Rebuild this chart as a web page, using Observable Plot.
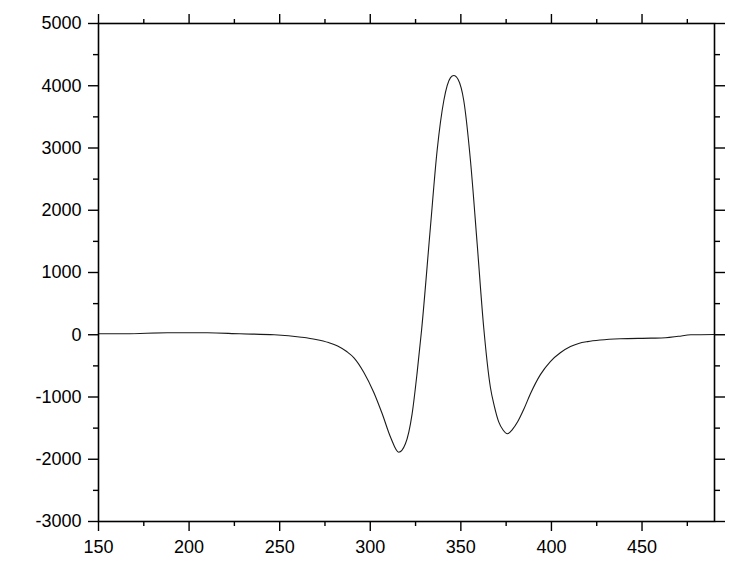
<!DOCTYPE html>
<html>
<head>
<meta charset="utf-8">
<script src="https://cdn.jsdelivr.net/npm/d3@7"></script>
<script src="https://cdn.jsdelivr.net/npm/@observablehq/plot@0.6"></script>
<style>
  html, body { margin: 0; padding: 0; background: #fff; }
  #chart svg { display: block; }
</style>
</head>
<body>
<div id="chart"></div>
<script>
const xs = [150, 165, 188, 210, 228, 247, 262, 270, 277, 282, 287, 291, 296.4, 301.9, 306.6, 311.2, 315.7, 319.4, 323.1, 325.9, 328.3, 333.2, 336.9, 340.6, 344.3, 346.1, 348.5, 351.6, 355.3, 359, 362.6, 366.3, 368.5, 370.9, 373.3, 375.7, 378.5, 381.5, 385, 388.4, 393.9, 399.4, 404.9, 410.5, 415, 420, 427, 438, 455, 463, 470, 477, 490];
const ys = [15, 15, 31, 31, 15, 0, -39, -75, -125, -180, -270, -370, -601, -923, -1270, -1646, -1887, -1752, -1270, -600, 68, 1728, 2960, 3763, 4130, 4165, 4100, 3763, 2799, 1461, 121, -843, -1150, -1400, -1530, -1591, -1520, -1390, -1180, -948, -640, -430, -290, -190, -140, -110, -85, -65, -55, -48, -25, 0, 5];

const xMajor = [150, 200, 250, 300, 350, 400, 450];
const xMinor = [175, 225, 275, 325, 375, 425, 475];
const yMajor = [-3000, -2000, -1000, 0, 1000, 2000, 3000, 4000, 5000];
const yMinor = [-2500, -1500, -500, 500, 1500, 2500, 3500, 4500];

const data = xs.map((x, i) => ({x, y: ys[i]}));

const fs = 18;
const plot = Plot.plot({
  width: 756,
  height: 574,
  marginLeft: 98,
  marginRight: 42,
  marginTop: 23,
  marginBottom: 53,
  style: {fontFamily: "'Liberation Sans', Arial, sans-serif", fontSize: fs + "px", color: "#000", background: "#fff"},
  x: {domain: [150, 490]},
  y: {domain: [-3000, 5000]},
  marks: [
    Plot.line(data, {x: "x", y: "y", stroke: "#1a1a1a", strokeWidth: 1.1, curve: "monotone-x"}),
    Plot.frame({stroke: "#000", strokeWidth: 1.6}),
    Plot.axisX({anchor: "bottom", ticks: xMajor, tickSize: 10, tickPadding: 9, tickFormat: d => String(d), fontSize: fs, label: null, strokeWidth: 1.4}),
    Plot.axisX({anchor: "bottom", ticks: xMinor, tickSize: 5, text: null, label: null, strokeWidth: 1.4}),
    Plot.axisX({anchor: "top", ticks: xMajor, tickSize: 10, text: null, label: null, strokeWidth: 1.4}),
    Plot.axisX({anchor: "top", ticks: xMinor, tickSize: 5, text: null, label: null, strokeWidth: 1.4}),
    Plot.axisY({anchor: "left", ticks: yMajor, tickSize: 10, tickPadding: 7, tickFormat: d => String(d), fontSize: fs, label: null, strokeWidth: 1.4}),
    Plot.axisY({anchor: "left", ticks: yMinor, tickSize: 5, text: null, label: null, strokeWidth: 1.4}),
    Plot.axisY({anchor: "right", ticks: yMajor, tickSize: 10, text: null, label: null, strokeWidth: 1.4}),
    Plot.axisY({anchor: "right", ticks: yMinor, tickSize: 5, text: null, label: null, strokeWidth: 1.4})
  ]
});
document.getElementById("chart").appendChild(plot);
</script>
</body>
</html>
